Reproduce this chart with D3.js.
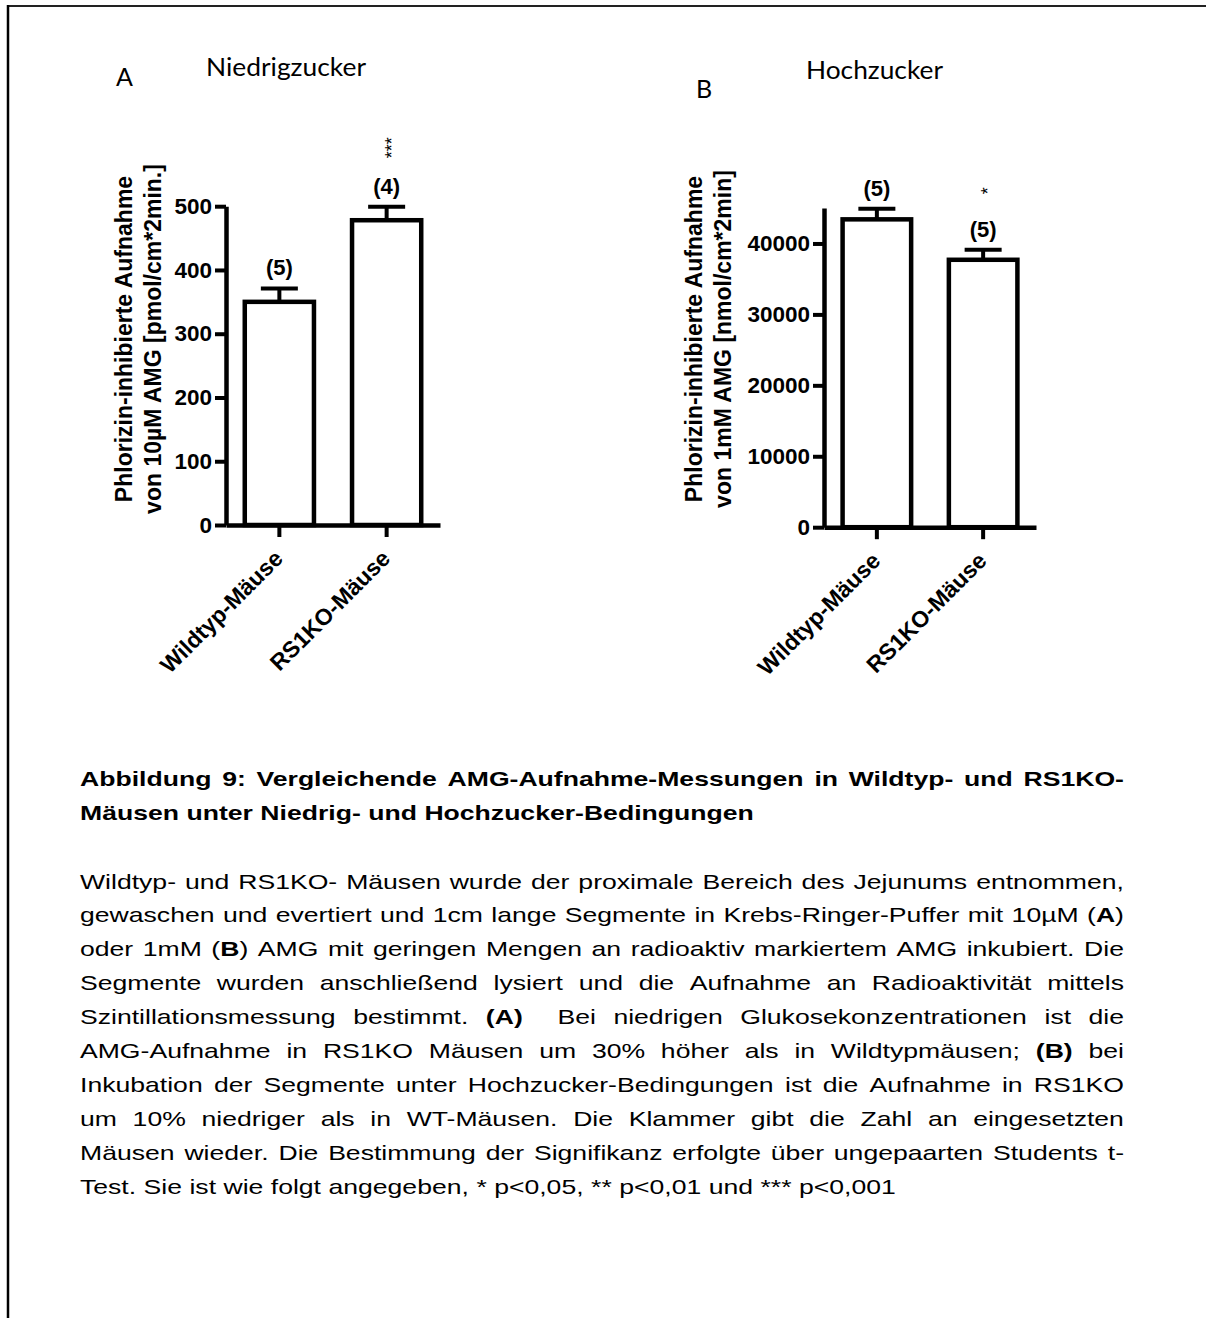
<!DOCTYPE html>
<html>
<head>
<meta charset="utf-8">
<script src="https://cdn.jsdelivr.net/npm/d3@7"></script>
<style>
  html, body { margin: 0; padding: 0; background: #fff; }
  svg { display: block; }
</style>
</head>
<body>
<svg id="fig" width="1206" height="1318"></svg>
<script>
// ---- data ----
const categories = ["Wildtyp-Mäuse", "RS1KO-Mäuse"];

// Panel A: low glucose (10 µM AMG)
const lowMeans = [350, 478];
const lowSem = [21, 21];
const lowN = ["(5)", "(4)"];
const lowSig = ["", "***"];
const lowTicks = [0, 100, 200, 300, 400, 500];
const lowDomain = [0, 500];

// Panel B: high glucose (1 mM AMG)
const highMeans = [43400, 37700];
const highSem = [1500, 1420];
const highN = ["(5)", "(5)"];
const highSig = ["", "*"];
const highTicks = [0, 10000, 20000, 30000, 40000];
const highDomain = [0, 45000];

const panelLetters = ["A", "B"];
const panelTitles = ["Niedrigzucker", "Hochzucker"];
const yTitleLow = ["Phlorizin-inhibierte Aufnahme", "von 10µM AMG [pmol/cm*2min.]"];
const yTitleHigh = ["Phlorizin-inhibierte Aufnahme", "von 1mM AMG [nmol/cm*2min]"];

const captionHead = [
  { text: "Abbildung 9: Vergleichende AMG-Aufnahme-Messungen in Wildtyp- und RS1KO-", justify: true },
  { text: "Mäusen unter Niedrig- und Hochzucker-Bedingungen", justify: false }
];
const captionBody = [
  { text: "Wildtyp- und RS1KO- Mäusen wurde der proximale Bereich des Jejunums entnommen,", justify: true },
  { text: "gewaschen und evertiert und 1cm lange Segmente in Krebs-Ringer-Puffer mit 10µM (<b>A</b>)", justify: true },
  { text: "oder 1mM (<b>B</b>) AMG mit geringen Mengen an radioaktiv markiertem AMG inkubiert. Die", justify: true },
  { text: "Segmente wurden anschließend lysiert und die Aufnahme an Radioaktivität mittels", justify: true },
  { text: "Szintillationsmessung bestimmt. <b>(A)</b>  Bei niedrigen Glukosekonzentrationen ist die", justify: true },
  { text: "AMG-Aufnahme in RS1KO Mäusen um 30% höher als in Wildtypmäusen; <b>(B)</b> bei", justify: true },
  { text: "Inkubation der Segmente unter Hochzucker-Bedingungen ist die Aufnahme in RS1KO", justify: true },
  { text: "um 10% niedriger als in WT-Mäusen. Die Klammer gibt die Zahl an eingesetzten", justify: true },
  { text: "Mäusen wieder. Die Bestimmung der Signifikanz erfolgte über ungepaarten Students t-", justify: true },
  { text: "Test. Sie ist wie folgt angegeben, * p<0,05, ** p<0,01 und *** p<0,001", justify: false }
];

// ---- drawing ----
const svg = d3.select("#fig");
const CHART_FONT = "'Liberation Sans', Arial, Helvetica, sans-serif";
const TITLE_FONT = "Lato, 'Open Sans', sans-serif";

svg.append("rect").attr("width", 1206).attr("height", 1318).attr("fill", "#fff");

// page frame (top and left rules)
svg.append("line").attr("x1", 7).attr("x2", 1206).attr("y1", 6).attr("y2", 6)
  .attr("stroke", "#222").attr("stroke-width", 2);
svg.append("line").attr("x1", 8).attr("x2", 8).attr("y1", 5).attr("y2", 1318)
  .attr("stroke", "#000").attr("stroke-width", 2.5);

const panels = [
  {
    means: lowMeans, sem: lowSem, n: lowN, sig: lowSig, ticks: lowTicks, domain: lowDomain,
    yRange: [525, 206.2], xRange: [226, 440], yTitle: yTitleLow, titleX: 131.7,
    letter: { x: 116, y: 86 }, title: { x: 206, y: 76, w: 160 }
  },
  {
    means: highMeans, sem: highSem, n: highN, sig: highSig, ticks: highTicks, domain: highDomain,
    yRange: [527.2, 208.0], xRange: [824, 1036], yTitle: yTitleHigh, titleX: 701.7,
    letter: { x: 696, y: 98 }, title: { x: 806, y: 79, w: 137 }
  }
];

panels.forEach((p, pi) => {
  const g = svg.append("g");
  const y = d3.scaleLinear().domain(p.domain).range(p.yRange);
  const x = d3.scaleBand().domain(categories).range(p.xRange)
    .paddingInner(0.355).paddingOuter(0.175);
  const y0 = y(0);

  // panel letter and heading
  g.append("text").attr("x", p.letter.x).attr("y", p.letter.y)
    .attr("font-family", TITLE_FONT).attr("font-size", 25).attr("fill", "#000")
    .text(panelLetters[pi]);
  g.append("text").attr("x", p.title.x).attr("y", p.title.y)
    .attr("font-family", TITLE_FONT).attr("font-size", 25).attr("fill", "#000")
    .attr("textLength", p.title.w).attr("lengthAdjust", "spacingAndGlyphs")
    .text(panelTitles[pi]);

  // bars
  g.selectAll("rect.bar").data(p.means).join("rect").attr("class", "bar")
    .attr("x", (d, i) => x(categories[i]))
    .attr("width", x.bandwidth())
    .attr("y", d => y(d))
    .attr("height", d => y0 - y(d))
    .attr("fill", "#fff").attr("stroke", "#000").attr("stroke-width", 4.5);

  // error bars (upper SEM only)
  const capHalf = 18.5;
  p.means.forEach((m, i) => {
    const cx = x(categories[i]) + x.bandwidth() / 2;
    g.append("line").attr("x1", cx).attr("x2", cx)
      .attr("y1", y(m)).attr("y2", y(m + p.sem[i]))
      .attr("stroke", "#000").attr("stroke-width", 4);
    g.append("line").attr("x1", cx - capHalf).attr("x2", cx + capHalf)
      .attr("y1", y(m + p.sem[i])).attr("y2", y(m + p.sem[i]))
      .attr("stroke", "#000").attr("stroke-width", 4);

    const nY = y(m + p.sem[i]) - 13;
    g.append("text").attr("x", cx).attr("y", nY)
      .attr("text-anchor", "middle").attr("font-family", CHART_FONT)
      .attr("font-weight", "bold").attr("font-size", 22).text(p.n[i]);

    if (p.sig[i]) {
      g.append("text")
        .attr("transform", `translate(${cx + 11},${nY - 46}) rotate(-90)`)
        .attr("text-anchor", "middle").attr("font-family", CHART_FONT)
        .attr("font-size", 18).text(p.sig[i]);
    }
  });

  // y axis
  const yAxis = g.append("g").attr("transform", `translate(${p.xRange[0]},0)`)
    .call(d3.axisLeft(y).tickValues(p.ticks).tickSize(11).tickSizeOuter(0).tickPadding(3)
      .tickFormat(d3.format("d")));
  yAxis.select(".domain").attr("stroke-width", 4.5);
  yAxis.selectAll(".tick line").attr("stroke-width", 4);
  yAxis.selectAll(".tick text").attr("font-family", CHART_FONT)
    .attr("font-weight", "bold").attr("font-size", 22.5).attr("fill", "#000");

  // x axis
  const xAxis = g.append("g").attr("transform", `translate(0,${y0})`)
    .call(d3.axisBottom(x).tickSize(12).tickSizeOuter(0));
  xAxis.select(".domain").attr("stroke-width", 4.5);
  xAxis.selectAll(".tick line").attr("stroke-width", 4);
  xAxis.selectAll(".tick text")
    .attr("x", 0).attr("y", 0).attr("dy", 0)
    .attr("transform", "translate(5,35) rotate(-45)")
    .attr("text-anchor", "end")
    .attr("font-family", CHART_FONT).attr("font-weight", "bold")
    .attr("font-size", 23).attr("fill", "#000");

  // y axis title (two lines, rotated)
  const yt = g.append("g").attr("transform", `translate(${p.titleX},339) rotate(-90)`);
  p.yTitle.forEach((line, li) => {
    yt.append("text").attr("x", 0).attr("y", li * 29)
      .attr("text-anchor", "middle").attr("font-family", CHART_FONT)
      .attr("font-weight", "bold").attr("font-size", 23).text(line);
  });
});

// ---- caption ----
function segments(word) {
  return word.split(/(<b>.*?<\/b>)/).filter(s => s.length)
    .map(s => s.startsWith("<b>") ? { text: s.slice(3, -4), bold: true } : { text: s, bold: false });
}

function paragraph(lines, opt) {
  const g = svg.append("g");
  const probe = g.append("text").attr("font-family", CHART_FONT).attr("font-size", opt.size)
    .attr("font-weight", opt.bold ? "bold" : "normal").text("n n");
  const probe2 = g.append("text").attr("font-family", CHART_FONT).attr("font-size", opt.size)
    .attr("font-weight", opt.bold ? "bold" : "normal").text("nn");
  const spaceW = (probe.node().getComputedTextLength() - probe2.node().getComputedTextLength()) * opt.sx;
  probe.remove(); probe2.remove();

  lines.forEach((line, i) => {
    const ly = opt.y0 + i * opt.lh;
    const words = line.text.split(" ");
    const nodes = words.map(w => {
      const t = g.append("text").attr("font-family", CHART_FONT).attr("font-size", opt.size)
        .attr("fill", "#000");
      segments(w).forEach(s => t.append("tspan")
        .attr("font-weight", (s.bold || opt.bold) ? "bold" : "normal").text(s.text));
      return t;
    });
    const widths = nodes.map(n => n.node().getComputedTextLength() * opt.sx);
    const gap = line.justify && words.length > 1
      ? (opt.width - d3.sum(widths)) / (words.length - 1)
      : spaceW;
    let cx = opt.x0;
    nodes.forEach((n, k) => {
      n.attr("transform", `translate(${cx},${ly}) scale(${opt.sx},1)`);
      cx += widths[k] + gap;
    });
  });
}

paragraph(captionHead, { x0: 80, width: 1044, y0: 786, lh: 34, size: 20, sx: 1.33, bold: true });
paragraph(captionBody, { x0: 80, width: 1044, y0: 888.5, lh: 33.9, size: 20, sx: 1.33, bold: false });
</script>
</body>
</html>
